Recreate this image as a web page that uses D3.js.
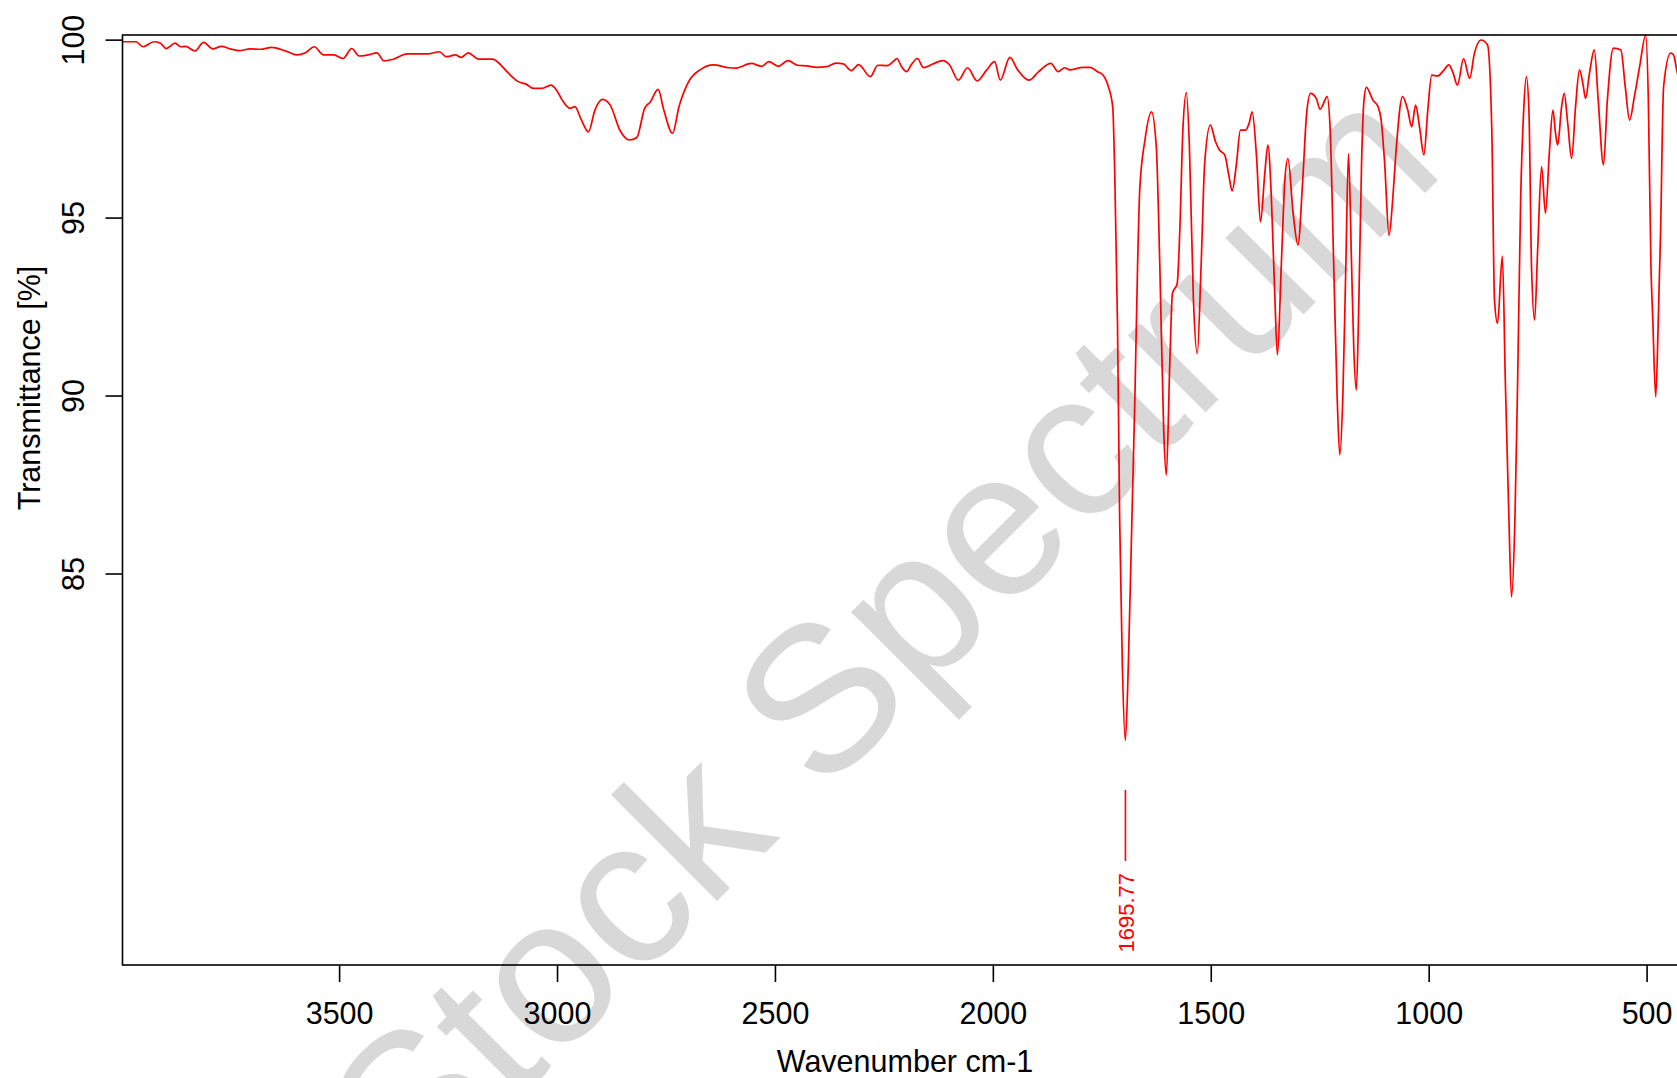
<!DOCTYPE html>
<html>
<head>
<meta charset="utf-8">
<script src="https://cdn.jsdelivr.net/npm/d3@7"></script>
<style>
  body { margin: 0; background: #fff; }
  svg { display: block; font-family: "Liberation Sans", Arial, sans-serif; }
</style>
</head>
<body>
<script>
// spectrum (wavenumber cm-1, transmittance %)
var wavenumbers = [
  3997, 3966, 3950, 3925, 3910, 3897, 3876, 3864, 3852, 3831, 3811, 3790, 3770, 3750, 3729, 3704,
  3680, 3655, 3630, 3618, 3598, 3577, 3557, 3536, 3512, 3491, 3471, 3454, 3434, 3413, 3397, 3376,
  3344, 3295, 3270, 3254, 3233, 3220, 3204, 3180, 3147, 3137, 3111, 3089, 3071, 3054, 3035, 3014,
  3001, 2988, 2970, 2959, 2944, 2928, 2913, 2896, 2878, 2856, 2834, 2817, 2799, 2786, 2768, 2755,
  2735, 2720, 2698, 2672, 2641, 2606, 2590, 2554, 2531, 2514, 2492, 2470, 2448, 2426, 2404, 2382,
  2360, 2343, 2325, 2308, 2281, 2264, 2242, 2229, 2220, 2210, 2198, 2188, 2173, 2159, 2137, 2115,
  2100, 2079, 2058, 2036, 2014, 1996, 1983, 1961, 1943, 1917, 1895, 1867, 1850, 1835, 1824, 1793,
  1777, 1760, 1747, 1735, 1725, 1720, 1714, 1709, 1703, 1696, 1689, 1681, 1674, 1668, 1663, 1651,
  1636, 1625, 1617, 1608, 1602, 1594, 1588, 1577, 1571, 1564, 1556, 1549, 1540, 1531, 1522, 1514,
  1501, 1489, 1480, 1468, 1458, 1451, 1441, 1432, 1420, 1412, 1405, 1395, 1386, 1376, 1369, 1361,
  1353, 1347, 1338, 1330, 1323, 1311, 1300, 1289, 1280, 1271, 1258, 1249, 1243, 1233, 1226, 1218,
  1210, 1204, 1197, 1190, 1184, 1177, 1172, 1166, 1160, 1154, 1149, 1143, 1128, 1116, 1109, 1101,
  1091, 1082, 1075, 1060, 1048, 1039, 1030, 1021, 1011, 1002, 993, 979, 966, 954, 945, 934,
  920, 906, 895, 880, 865, 855, 849, 842, 831, 824, 816, 810, 802, 796, 789, 782,
  776, 770, 764, 757, 750, 741, 732, 723, 715, 709, 704, 695, 689, 681, 672, 663,
  654, 646, 640, 631, 620, 611, 599, 590, 576, 559, 549, 539, 528, 516, 502, 496,
  490, 486, 479, 473, 468, 461, 445, 438, 431, 420, 408
];
var transmittance = [
  99.94, 99.94, 99.80, 99.94, 99.90, 99.75, 99.90, 99.80, 99.81, 99.68, 99.92, 99.74, 99.81, 99.74, 99.69, 99.74,
  99.73, 99.78, 99.71, 99.66, 99.57, 99.63, 99.80, 99.57, 99.57, 99.47, 99.75, 99.54, 99.57, 99.63, 99.40, 99.45,
  99.60, 99.60, 99.66, 99.52, 99.57, 99.50, 99.63, 99.45, 99.45, 99.38, 99.05, 98.82, 98.75, 98.63, 98.63, 98.72,
  98.58, 98.30, 98.07, 98.12, 97.74, 97.41, 98.02, 98.32, 98.16, 97.46, 97.18, 97.25, 98.07, 98.25, 98.60, 98.02,
  97.37, 98.12, 98.82, 99.15, 99.29, 99.21, 99.20, 99.33, 99.25, 99.38, 99.25, 99.41, 99.28, 99.26, 99.22, 99.24,
  99.34, 99.32, 99.13, 99.30, 98.96, 99.28, 99.27, 99.38, 99.47, 99.25, 99.10, 99.28, 99.47, 99.21, 99.32, 99.41,
  99.30, 98.86, 99.21, 98.84, 99.15, 99.38, 98.86, 99.50, 99.15, 98.86, 99.10, 99.33, 99.10, 99.21, 99.15, 99.22,
  99.22, 99.10, 99.00, 98.68, 98.11, 96.05, 92.00, 86.50, 82.50, 80.31, 82.50, 86.50, 90.00, 93.60, 95.77, 97.18,
  97.97, 96.99, 93.71, 89.03, 87.76, 90.90, 92.87, 93.15, 94.65, 97.46, 98.51, 96.99, 92.77, 91.18, 93.71, 96.52,
  97.60, 97.13, 96.90, 96.76, 96.15, 95.75, 96.52, 97.46, 97.46, 97.65, 97.97, 96.71, 94.88, 96.24, 97.04, 95.58,
  92.77, 91.14, 93.71, 96.05, 96.66, 95.12, 94.23, 96.05, 97.93, 98.49, 98.35, 98.04, 98.16, 98.40, 97.46, 93.71,
  89.96, 88.33, 89.96, 93.71, 96.80, 93.71, 91.37, 90.15, 92.77, 96.52, 98.21, 98.66, 98.30, 98.11, 97.74, 96.52,
  94.50, 95.60, 96.85, 98.40, 98.02, 97.55, 98.16, 97.55, 96.76, 98.02, 99.00, 98.98, 99.13, 99.29, 99.10, 98.72,
  99.47, 98.91, 99.62, 99.99, 99.85, 97.37, 92.68, 92.03, 93.92, 90.34, 86.59, 84.34, 86.59, 90.34, 95.49, 98.02,
  98.96, 98.02, 93.62, 92.12, 94.09, 96.43, 95.12, 96.85, 98.02, 97.37, 97.04, 98.12, 98.49, 97.65, 96.66, 98.12,
  99.15, 98.75, 98.35, 99.06, 99.71, 98.30, 96.48, 98.30, 99.76, 99.71, 98.68, 97.74, 98.40, 99.24, 100.13, 98.30,
  93.62, 92.21, 89.96, 92.21, 94.56, 98.68, 99.62, 99.57, 99.15, 98.60, 98.20
];

var xTicks = [3500, 3000, 2500, 2000, 1500, 1000, 500];
var yTicks = [100, 95, 90, 85];
var peakLabels = [1695.77];

var width = 1677,
    height = 1078;

var plot = { left: 122.5, right: 1688, top: 35, bottom: 965 };
var fontSize = "30.5px";

var svg = d3.select("body")
    .append("svg")
    .attr("width", width)
    .attr("height", height);

var x = d3.scaleLinear()
    .domain([3997, 405])
    .range([plot.left, plot.right]);

var y = d3.scaleLinear()
    .domain([74, 100.13])
    .range([plot.bottom, plot.top]);

// watermark, behind everything
svg.append("text")
    .attr("transform", "translate(931,687) rotate(-45)")
    .attr("text-anchor", "middle")
    .style("font-size", "207px")
    .style("fill", "#d8d8d8")
    .text("Stock Spectrum");

var points = wavenumbers.map(function (w, i) {
    return [w, transmittance[i]];
});

var line = d3.line()
    .x(function (d) { return x(d[0]); })
    .y(function (d) { return y(d[1]); })
    .curve(d3.curveMonotoneX);

svg.append("path")
    .datum(points)
    .attr("d", line)
    .style("fill", "none")
    .style("stroke", "#ff0000")
    .style("stroke-width", 1.7);

// peak label
peakLabels.forEach(function (p) {
    var px = x(p);
    svg.append("line")
        .attr("x1", px).attr("x2", px)
        .attr("y1", 790).attr("y2", 861)
        .style("stroke", "#ff0000")
        .style("stroke-width", 1.6);
    svg.append("text")
        .attr("transform", "translate(" + (px + 8.5) + ",873) rotate(-90)")
        .attr("text-anchor", "end")
        .style("font-size", "22px")
        .style("fill", "#ff0000")
        .text(p.toFixed(2));
});

// axes
var xAxis = svg.append("g")
    .attr("transform", "translate(0," + plot.bottom + ")")
    .call(d3.axisBottom(x).tickValues(xTicks).tickSize(17).tickPadding(20).tickFormat(d3.format("d")));

var yAxis = svg.append("g")
    .attr("transform", "translate(" + plot.left + ",0)")
    .call(d3.axisLeft(y).tickValues(yTicks).tickSize(17).tickFormat(d3.format("d")));

[xAxis, yAxis].forEach(function (g) {
    g.select(".domain").remove();
    g.selectAll(".tick line").style("stroke", "#000").style("stroke-width", 1.6);
    g.selectAll(".tick text")
        .style("font-family", "'Liberation Sans', Arial, sans-serif")
        .style("font-size", fontSize)
        .style("fill", "#000");
});

yAxis.selectAll(".tick text")
    .attr("transform", "rotate(-90)")
    .attr("x", 0)
    .attr("y", -38.5)
    .attr("dy", null)
    .attr("text-anchor", "middle");

// box
svg.append("rect")
    .attr("x", plot.left)
    .attr("y", plot.top)
    .attr("width", plot.right - plot.left)
    .attr("height", plot.bottom - plot.top)
    .style("fill", "none")
    .style("stroke", "#000")
    .style("stroke-width", 1.6);

// axis titles
svg.append("text")
    .attr("x", 905)
    .attr("y", 1072)
    .attr("text-anchor", "middle")
    .style("font-size", fontSize)
    .text("Wavenumber cm-1");

svg.append("text")
    .attr("transform", "translate(40,388) rotate(-90)")
    .attr("text-anchor", "middle")
    .style("font-size", fontSize)
    .text("Transmittance [%]");
</script>
</body>
</html>
